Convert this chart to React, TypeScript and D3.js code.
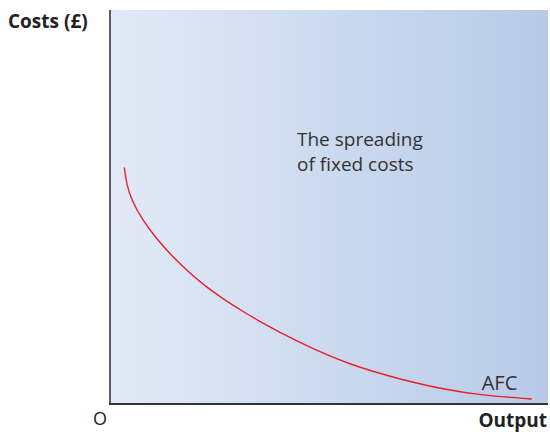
import React from "react";
import * as d3 from "d3";

const output = [14.3, 16.7, 21.7, 31.7, 46.7, 63.3, 80, 96.7, 113.3, 130, 143.3, 190, 240, 290, 336.7, 370, 421.7];
const afc = [236.7, 219, 204, 185, 165, 146.5, 130.7, 116.7, 105, 94.5, 86, 60.7, 39, 24.7, 14, 9, 5];
const axisLabels = { y: "Costs (£)", x: "Output", origin: "O" };
const curveLabel = "AFC";
const noteLines = ["The spreading", "of fixed costs"];

const W = 550;
const H = 432;
const plot = { left: 110, right: 548, top: 10, bottom: 404 };

export default function App() {
  const x = d3.scaleLinear().domain([0, 438]).range([plot.left, plot.right]);
  const y = d3.scaleLinear().domain([0, 394]).range([plot.bottom, plot.top]);
  const pts = output.map((q, i) => [q, afc[i]] as [number, number]);
  const line = d3
    .line<[number, number]>()
    .x((d) => x(d[0]))
    .y((d) => y(d[1]))
    .curve(d3.curveBasis);
  const font = "'Open Sans', 'Noto Sans', sans-serif";
  return (
    <div style={{ position: "absolute", left: 0, top: 0 }}>
      <svg width={W} height={H} style={{ display: "block" }}>
        <defs>
          <linearGradient id="bg" x1="0" y1="0" x2="1" y2="0">
            <stop offset="0" stopColor="#e2eaf6" />
            <stop offset="1" stopColor="#b7cae8" />
          </linearGradient>
        </defs>
        <rect x={plot.left} y={plot.top} width={plot.right - plot.left} height={plot.bottom - plot.top} fill="url(#bg)" />
        <path d={line(pts) || ""} fill="none" stroke="#e8202a" strokeWidth={1.4} />
        <line x1={plot.left} x2={plot.left} y1={plot.top} y2={plot.bottom} stroke="#5c5c66" strokeWidth={2} />
        <line x1={plot.left - 1} x2={plot.right} y1={plot.bottom} y2={plot.bottom} stroke="#333" strokeWidth={2} />
        <text x={8} y={28} fontFamily={font} fontWeight="bold" fontSize={19} fill="#222">{axisLabels.y}</text>
        <text x={100} y={425} fontFamily={font} fontSize={18} fill="#222" textAnchor="middle">{axisLabels.origin}</text>
        <text x={547} y={427} fontFamily={font} fontWeight="bold" fontSize={19} fill="#222" textAnchor="end">{axisLabels.x}</text>
        <text x={x(371.7)} y={390} fontFamily={font} fontSize={20} fill="#333">{curveLabel}</text>
        {noteLines.map((t, i) => (
          <text key={i} x={297} y={146 + i * 24.7} fontFamily={font} fontSize={19} fill="#333">{t}</text>
        ))}
      </svg>
    </div>
  );
}
